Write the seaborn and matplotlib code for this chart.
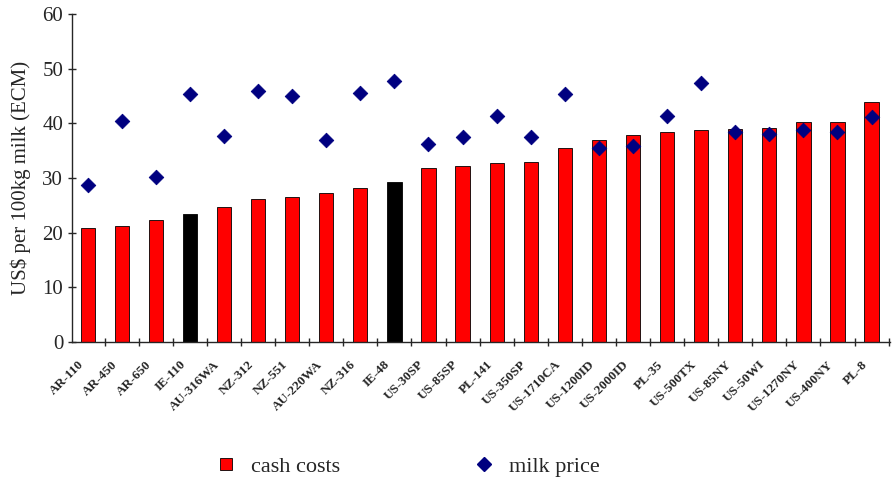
import matplotlib
matplotlib.use("Agg")
import matplotlib.pyplot as plt
import matplotlib.transforms as mtransforms
import seaborn as sns
import numpy as np
from matplotlib.lines import Line2D
from matplotlib.ticker import FixedLocator

farms = ["AR-110", "AR-450", "AR-650", "IE-110", "AU-316WA", "NZ-312", "NZ-551",
         "AU-220WA", "NZ-316", "IE-48", "US-30SP", "US-85SP", "PL-141", "US-350SP",
         "US-1710CA", "US-1200ID", "US-2000ID", "PL-35", "US-500TX", "US-85NY",
         "US-50WI", "US-1270NY", "US-400NY", "PL-8"]
cash_costs = [20.9, 21.2, 22.3, 23.4, 24.7, 26.1, 26.5, 27.2, 28.2, 29.3, 31.8, 32.2,
              32.7, 33.0, 35.4, 37.0, 37.8, 38.4, 38.8, 38.9, 39.1, 40.2, 40.2, 43.9]
milk_price = [28.8, 40.4, 30.1, 45.3, 37.7, 45.9, 44.9, 37.0, 45.6, 47.7, 36.3, 37.4,
              41.4, 37.4, 45.3, 35.4, 35.8, 41.4, 47.3, 38.4, 38.0, 38.8, 38.4, 41.1]
highlight = ["IE-110", "IE-48"]

sns.set_style("ticks")
plt.rcParams['font.family'] = ['Liberation Serif', 'DejaVu Serif']

fig = plt.figure(figsize=(8.93, 4.8), dpi=100)
ax = fig.add_axes([0.081, 0.2875, 0.916, 0.6835])

colors = ["black" if f in highlight else "red" for f in farms]
sns.barplot(x=farms, y=cash_costs, hue=farms, palette=colors, legend=False,
            width=0.42, edgecolor="black", linewidth=0.6, saturation=1, ax=ax)
sns.scatterplot(x=np.arange(len(farms)), y=milk_price, marker="D", s=55,
                color="#000080", edgecolor="#000080", zorder=3, ax=ax)

ax.set_xlim(-0.45, 23.55)
ax.set_ylim(0, 60)
ax.set_yticks(range(0, 61, 10))
ax.tick_params(axis="y", labelsize=15, length=6, direction="inout", width=1)
ax.set_ylabel("US$ per 100kg milk (ECM)", fontsize=15)
ax.yaxis.set_label_coords(-0.05, 0.5)

ax.set_xticks(range(len(farms)))
ax.set_xticklabels(farms, rotation=45, ha="right", va="center",
                   rotation_mode="anchor", fontsize=9.5, fontweight="bold")
ax.tick_params(axis="x", which="major", length=0, pad=15)
shift = mtransforms.ScaledTranslation(-6 / 100, 0, fig.dpi_scale_trans)
for lab in ax.get_xticklabels():
    lab.set_transform(lab.get_transform() + shift)
ax.xaxis.set_minor_locator(FixedLocator(np.arange(-0.5, len(farms), 1.0)))
ax.tick_params(axis="x", which="minor", length=6, direction="inout", width=1)

for s in ["top", "right"]:
    ax.spines[s].set_visible(False)
ax.spines["left"].set_linewidth(1)
ax.spines["bottom"].set_linewidth(1)

handles = [
    Line2D([], [], marker="s", linestyle="none", markersize=9,
           markerfacecolor="red", markeredgecolor="black", markeredgewidth=0.6),
    Line2D([], [], marker="D", linestyle="none", markersize=7,
           markerfacecolor="#000080", markeredgecolor="#000080"),
]
fig.legend(handles, ["cash costs", "milk price"], loc="center",
           bbox_to_anchor=(0.45, 0.028), ncol=2, frameon=False, fontsize=16,
           columnspacing=5.5, handletextpad=0.1)

fig.savefig("out.png", dpi=100)
